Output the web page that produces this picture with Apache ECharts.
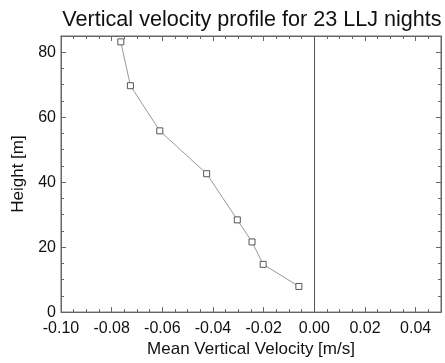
<!DOCTYPE html>
<html><head><meta charset="utf-8">
<script src="https://cdn.jsdelivr.net/npm/echarts@6/dist/echarts.min.js"></script>
<style>html,body{margin:0;padding:0;background:#fff}#c{width:445px;height:363px}</style>
</head><body><div id="c"></div>
<script>
const velocity = [-0.0764, -0.0726, -0.0610, -0.0425, -0.0304, -0.0246, -0.0202, -0.0061];
const height = [83.2, 69.7, 55.8, 42.6, 28.4, 21.6, 14.7, 7.9];
const xTicks = [-0.10, -0.08, -0.06, -0.04, -0.02, 0.00, 0.02, 0.04];
const yTicks = [0, 20, 40, 60, 80];
const titleText = 'Vertical velocity profile for 23 LLJ nights';
const xName = 'Mean Vertical Velocity [m/s]';
const yName = 'Height [m]';

const font = 'Liberation Sans, Arial, sans-serif';
const axisColor = '#666';
const chart = echarts.init(document.getElementById('c'), null, {renderer: 'canvas'});
const commonTick = {show: true, inside: true, length: 5, lineStyle: {color: axisColor}};
const commonMinor = {show: true, splitNumber: 4, length: 3, lineStyle: {color: axisColor}};
chart.setOption({
  animation: false,
  backgroundColor: '#fff',
  title: {text: titleText, left: 247, top: 4, textAlign: 'center',
    textStyle: {fontFamily: font, fontSize: 21.6, fontWeight: 'normal', color: '#111'}},
  grid: {left: 61, right: 4, top: 36, bottom: 47, show: true, borderColor: axisColor, borderWidth: 1},
  xAxis: [{
    type: 'value', min: -0.10, max: 0.05, interval: 0.02, position: 'bottom',
    name: xName, nameLocation: 'middle', nameGap: 26,
    nameTextStyle: {fontFamily: font, fontSize: 17, color: '#111'},
    axisLine: {show: true, onZero: false, lineStyle: {color: axisColor}},
    axisTick: commonTick, minorTick: commonMinor, splitLine: {show: false},
    axisLabel: {fontFamily: font, fontSize: 16, color: '#111', margin: 8,
      formatter: v => xTicks.some(t => Math.abs(t - v) < 1e-9) ? v.toFixed(2) : '',
      showMaxLabel: false}
  }, {
    type: 'value', min: -0.10, max: 0.05, interval: 0.02, position: 'top',
    axisLine: {show: true, onZero: false, lineStyle: {color: axisColor}},
    axisTick: commonTick, minorTick: commonMinor, splitLine: {show: false},
    axisLabel: {show: false}
  }],
  yAxis: [{
    type: 'value', min: 0, max: 85, interval: 20, position: 'left',
    name: yName, nameLocation: 'middle', nameGap: 34, nameRotate: 90,
    nameTextStyle: {fontFamily: font, fontSize: 17, color: '#111'},
    axisLine: {show: true, onZero: false, lineStyle: {color: axisColor}},
    axisTick: commonTick, minorTick: commonMinor, splitLine: {show: false},
    axisLabel: {fontFamily: font, fontSize: 16, color: '#111', margin: 5,
      formatter: v => yTicks.includes(v) ? String(v) : '', showMaxLabel: false}
  }, {
    type: 'value', min: 0, max: 85, interval: 20, position: 'right',
    axisLine: {show: true, onZero: false, lineStyle: {color: axisColor}},
    axisTick: commonTick, minorTick: commonMinor, splitLine: {show: false},
    axisLabel: {show: false}
  }],
  series: [{
    type: 'line', xAxisIndex: 0, yAxisIndex: 0,
    data: velocity.map((v, i) => [v, height[i]]),
    symbol: 'rect', symbolSize: 6, showAllSymbol: true,
    lineStyle: {color: '#999', width: 1},
    itemStyle: {color: '#fff', borderColor: '#555', borderWidth: 1},
    markLine: {silent: true, symbol: 'none', label: {show: false},
      lineStyle: {color: '#555', width: 1, type: 'solid'},
      data: [{xAxis: 0}]}
  }]
});
</script></body></html>
